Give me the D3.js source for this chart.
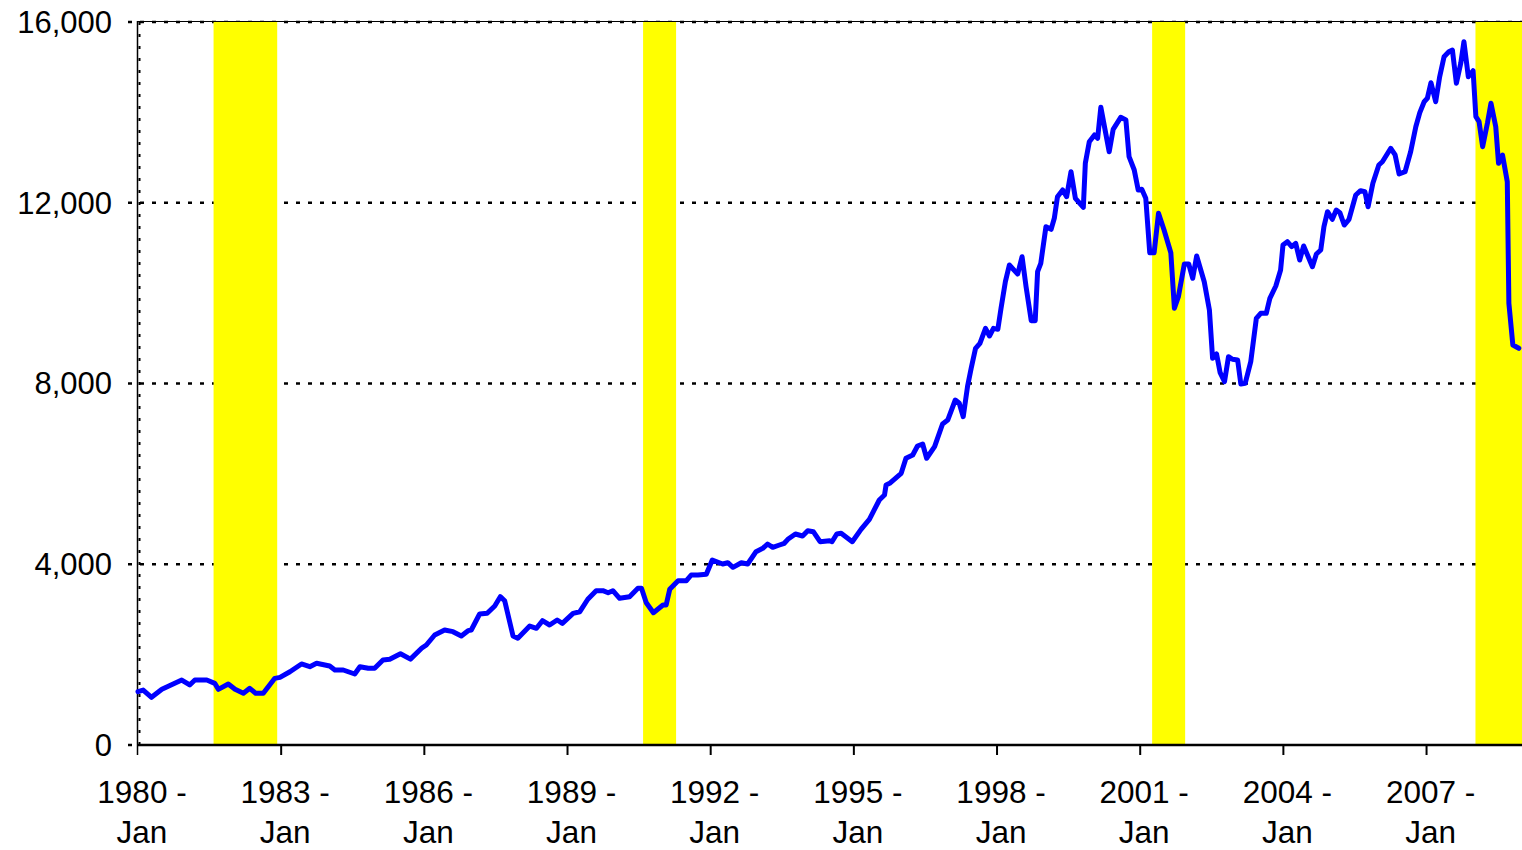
<!DOCTYPE html>
<html>
<head>
<meta charset="utf-8">
<script src="https://cdn.jsdelivr.net/npm/d3@7"></script>
<style>
  body { margin: 0; background: #fff; }
  text { font-family: "Liberation Sans", Arial, sans-serif; fill: #000; }
</style>
</head>
<body>
<div id="chart"></div>
<script>
// months counted from Jan 1980
const months = [0,1.3,3.4,6,11,13,14.3,17.3,19.3,20.2,22.7,24.4,26.5,28.1,29.6,31.5,34.4,35.7,38.2,41.1,43.2,44.9,48.2,49.5,51.6,54.5,55.8,57.9,59.5,61.6,63.3,66,68.5,71.3,72.5,74.6,77.1,79.2,81.3,83,83.8,85.9,87.8,89.7,91.1,92.2,94.3,95.5,98.5,100.2,101.7,103.5,105.4,106.7,109.4,111.1,113.1,115.2,116.9,118.2,119.4,121.1,123.6,125.7,126.6,127.8,129.6,132,132.8,133.7,135.8,137.9,139.1,140.8,142.9,144.4,147,148.3,149.6,151.7,153.3,155.4,157.1,158.3,159.6,161.3,162.5,163.4,165.3,167.1,168.4,169.8,171.5,173.9,174.5,175.7,176.8,179.6,181.8,183.9,186.4,187.7,188.1,189,191.9,193.1,194.8,196,197.3,198.3,200.3,202.3,203.6,205.5,206.5,207.5,208.6,209.5,210.6,211.7,213.1,214.1,215.1,216.2,217,218.1,219.1,221.2,222.3,223.3,224.6,225.6,226.2,227,228.3,229.6,230.4,231.2,232.5,233.5,234.6,235.7,237.7,238.2,239.2,240.5,241.3,242.1,244.2,245.2,247.1,248.4,249.2,250.5,251.5,252.4,253.4,254.4,255.5,256.6,258,259.7,260.6,261.6,263.1,264.2,265.2,266.2,268.1,269.4,270.2,271.2,272.1,273.2,274.2,275.2,276.5,277.3,278.4,279.8,281.2,282.3,283.7,284.6,286.1,287.3,287.9,289,290.1,291.1,292.1,293.1,295.3,296.3,297.4,298.2,299.1,300.3,301.3,302.2,303.3,304.5,306.2,307.4,308.5,309.3,310.5,312,312.9,315,316.1,317.1,318.6,320,321.3,322.3,323.4,324.2,325.1,326.3,327.3,328.4,329.6,330.5,331.5,332.6,333.4,334.5,335.7,336.4,337.2,338.1,339.3,340.2,341.4,342.1,343.1,344.3,344.7,345.7,347.2];
const values = [1180,1217,1055,1232,1438,1328,1438,1438,1365,1232,1350,1232,1144,1254,1144,1144,1475,1497,1622,1793,1733,1808,1748,1660,1660,1571,1733,1697,1697,1881,1896,2020,1900,2140,2213,2434,2545,2508,2412,2530,2545,2899,2914,3076,3282,3193,2412,2361,2633,2582,2751,2656,2766,2693,2914,2950,3225,3415,3415,3370,3415,3246,3282,3468,3468,3149,2928,3098,3098,3445,3636,3636,3762,3762,3777,4094,4005,4034,3932,4034,4005,4278,4353,4448,4375,4426,4464,4552,4669,4625,4742,4720,4499,4521,4499,4669,4684,4499,4773,4995,5422,5532,5754,5791,6013,6345,6418,6617,6661,6345,6602,7104,7192,7635,7562,7265,7945,8336,8779,8890,9221,9051,9221,9199,9664,10253,10622,10423,10806,10142,9390,9390,10474,10660,11470,11412,11656,12134,12282,12134,12687,12098,11899,12873,13351,13499,13426,14112,13129,13625,13891,13831,13019,12725,12282,12297,12098,10894,10894,11766,11397,10894,9664,9921,10644,10644,10328,10821,10253,9626,8557,8653,8239,8040,8594,8536,8520,7989,8004,8483,9442,9553,9553,9885,10157,10512,11065,11138,11027,11102,10733,11043,10585,10866,10954,11470,11802,11634,11840,11780,11507,11634,12171,12267,12245,11913,12430,12835,12908,13205,13057,12636,12687,13129,13683,13993,14236,14311,14657,14236,14789,15232,15342,15380,14643,15086,15564,14789,14922,13905,13794,13241,13758,14201,13683,12873,13057,12466,9775,8852,8779];

// recession shading, months from Jan 1980 (start, end)
const recessions = [[19, 35], [127, 135.3], [255, 263.3], [336.3, 348]];

const yTicks = [0, 4000, 8000, 12000, 16000];
const xTickYears = [1980, 1983, 1986, 1989, 1992, 1995, 1998, 2001, 2004, 2007];

const width = 1522, height = 850;
const margin = {top: 22, right: 0, bottom: 105, left: 138};

const svg = d3.select("#chart").append("svg")
    .attr("width", width)
    .attr("height", height);

const x = d3.scaleLinear().domain([0, 348]).range([margin.left, width - margin.right]);
const y = d3.scaleLinear().domain([0, 16000]).range([height - margin.bottom, margin.top]);

// dotted gridlines
svg.append("g").selectAll("line")
    .data(yTicks.filter(d => d > 0))
    .join("line")
      .attr("x1", margin.left + 2)
      .attr("x2", width)
      .attr("y1", d => y(d))
      .attr("y2", d => y(d))
      .attr("stroke", "#000")
      .attr("stroke-width", 2.5)
      .attr("stroke-dasharray", "4,8");

// recession bars
svg.append("g").selectAll("rect")
    .data(recessions)
    .join("rect")
      .attr("x", d => x(d[0]))
      .attr("width", d => x(d[1]) - x(d[0]))
      .attr("y", y(16000))
      .attr("height", y(0) - y(16000))
      .attr("fill", "#ffff00");

// plot frame top + left
svg.append("line")
    .attr("x1", margin.left).attr("x2", width)
    .attr("y1", y(16000) - 0.5).attr("y2", y(16000) - 0.5)
    .attr("stroke", "#000").attr("stroke-width", 1);

svg.append("line")
    .attr("x1", margin.left - 0.5).attr("x2", margin.left - 0.5)
    .attr("y1", y(16000) - 1).attr("y2", y(0) + 10)
    .attr("stroke", "#000").attr("stroke-width", 1.5);

svg.append("line")
    .attr("x1", margin.left + 1.5).attr("x2", margin.left + 1.5)
    .attr("y1", y(16000)).attr("y2", y(0))
    .attr("stroke", "#000").attr("stroke-width", 2)
    .attr("stroke-dasharray", "3,9");

// y axis ticks + labels
const yAxis = svg.append("g");
yAxis.selectAll("line")
    .data(yTicks)
    .join("line")
      .attr("x1", margin.left - 10)
      .attr("x2", margin.left - 6)
      .attr("y1", d => y(d))
      .attr("y2", d => y(d))
      .attr("stroke", "#000")
      .attr("stroke-width", 2.5);

yAxis.selectAll("text")
    .data(yTicks)
    .join("text")
      .attr("x", 112)
      .attr("y", d => y(d))
      .attr("dy", "0.35em")
      .attr("text-anchor", "end")
      .style("font-size", "31px")
      .text(d => d3.format(",")(d));

// the series
const line = d3.line()
    .x((d, i) => x(months[i]))
    .y(d => y(d));

svg.append("path")
    .datum(values)
    .attr("d", line)
    .attr("fill", "none")
    .attr("stroke", "#0000ff")
    .attr("stroke-width", 5)
    .attr("stroke-linejoin", "round")
    .attr("stroke-linecap", "round");

// x axis
svg.append("line")
    .attr("x1", margin.left - 1).attr("x2", width)
    .attr("y1", y(0)).attr("y2", y(0))
    .attr("stroke", "#000").attr("stroke-width", 2.5);

const xAxis = svg.append("g");
xAxis.selectAll("line")
    .data(xTickYears.slice(1))
    .join("line")
      .attr("x1", d => x((d - 1980) * 12))
      .attr("x2", d => x((d - 1980) * 12))
      .attr("y1", y(0))
      .attr("y2", y(0) + 10)
      .attr("stroke", "#000")
      .attr("stroke-width", 2);

const lbl = xAxis.selectAll("text")
    .data(xTickYears)
    .join("text")
      .attr("text-anchor", "middle")
      .style("font-size", "31.5px");

lbl.append("tspan")
    .attr("x", d => x((d - 1980) * 12) + 4)
    .attr("y", 803)
    .text(d => d + " -");

lbl.append("tspan")
    .attr("x", d => x((d - 1980) * 12) + 4)
    .attr("y", 843)
    .text("Jan");
</script>
</body>
</html>
